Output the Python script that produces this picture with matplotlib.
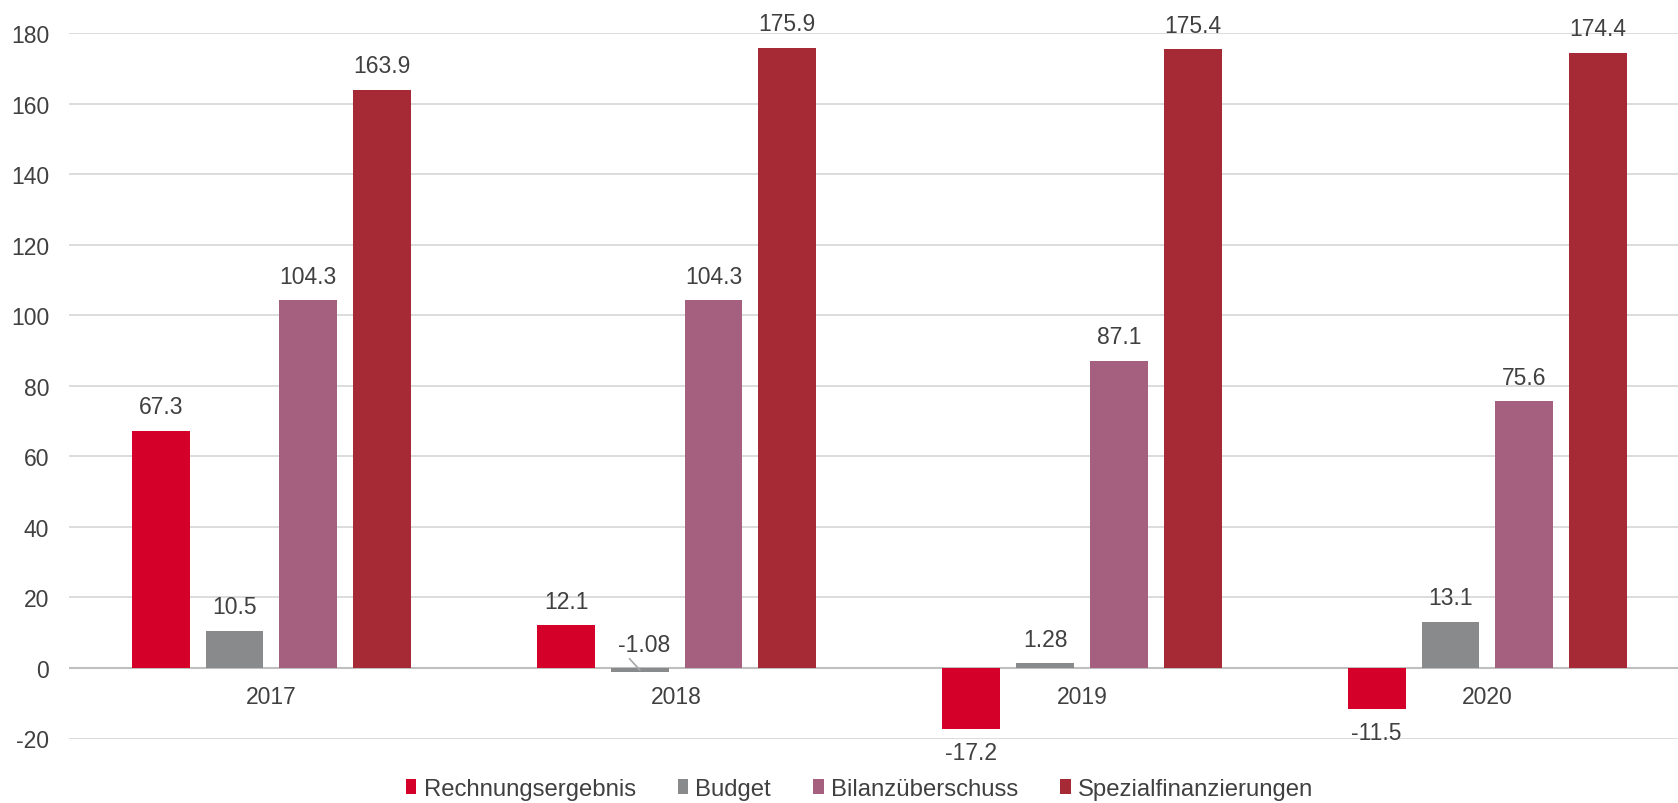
import matplotlib.pyplot as plt
import numpy as np

plt.rcParams['font.family'] = ['Liberation Sans', 'DejaVu Sans']
plt.rcParams['axes.unicode_minus'] = False

jahre = ['2017', '2018', '2019', '2020']
rechnungsergebnis = [67.3, 12.1, -17.2, -11.5]
budget = [10.5, -1.08, 1.28, 13.1]
bilanzueberschuss = [104.3, 104.3, 87.1, 75.6]
spezialfinanzierungen = [163.9, 175.9, 175.4, 174.4]

serien = ['Rechnungsergebnis', 'Budget', 'Bilanzüberschuss', 'Spezialfinanzierungen']
farben = ['#D5002A', '#898A8C', '#A5607F', '#A52A36']
werte = [rechnungsergebnis, budget, bilanzueberschuss, spezialfinanzierungen]

textfarbe = '#404040'
fs = 16.5

fig = plt.figure(figsize=(16.78, 8.04), dpi=100)
ax = fig.add_axes([68.7 / 1678, 64.5 / 804, 1 - 68.7 / 1678, (769.8 - 64.5) / 804])

x = np.arange(len(jahre))
pitch = 0.182
breite = 0.1426

for i, (name, farbe, vals) in enumerate(zip(serien, farben, werte)):
    pos = x + (i - 1.5) * pitch
    ax.bar(pos, vals, breite, color=farbe, label=name, zorder=3)
    for p, v in zip(pos, vals):
        txt = f'{v:g}'
        if name == 'Budget' and v == -1.08:
            # Beschriftung mit Fuehrungslinie
            ax.annotate(txt, xy=(p, -0.6), xytext=(p + 0.01, 3.5),
                        ha='center', va='bottom', fontsize=fs, color=textfarbe)
            ax.plot([p - 0.025, p], [2.6, -0.6], color='#A6A6A6', lw=1.2, zorder=4)
            continue
        if v >= 0:
            ax.annotate(txt, (p, v), xytext=(0, 9), textcoords='offset points',
                        ha='center', va='bottom', fontsize=fs, color=textfarbe)
        else:
            ax.annotate(txt, (p, v), xytext=(0, -9), textcoords='offset points',
                        ha='center', va='top', fontsize=fs, color=textfarbe)

ax.set_ylim(-20, 180)
ax.set_yticks(np.arange(-20, 181, 20))
ax.set_xlim(-0.5, 3.5 - 12 / 405.3)
ax.grid(axis='y', color='#D9D9D9', lw=1.3, zorder=0)
ax.axhline(0, color='#BFBFBF', lw=1.5, zorder=2)
for s in ax.spines.values():
    s.set_visible(False)
ax.tick_params(axis='y', length=0, labelsize=fs, labelcolor=textfarbe, pad=14)
ax.tick_params(axis='x', length=0, labelbottom=False)

for xi, j in zip(x, jahre):
    ax.text(xi, -8.2, j, ha='center', va='center', fontsize=fs, color=textfarbe, zorder=4)

fig.legend(loc='center', bbox_to_anchor=(803 / 1568, 14 / 804), ncol=4,
           frameon=False, fontsize=17.2, handlelength=0.45, handleheight=0.55,
           handletextpad=0.3, columnspacing=1.75, labelcolor=textfarbe,
           borderpad=0)

fig.savefig('out.png', dpi=100)
